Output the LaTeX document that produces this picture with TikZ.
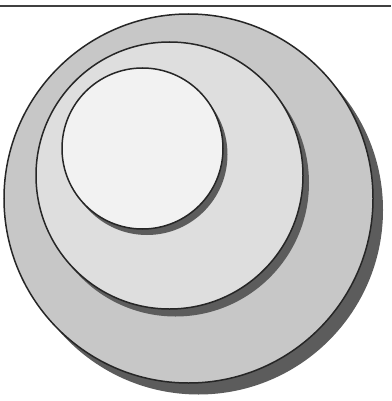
\documentclass[tikz,border=0pt]{standalone}
\usetikzlibrary{shadows}
\definecolor{ringdark}{gray}{0.78}
\definecolor{ringmid}{gray}{0.87}
\definecolor{ringlight}{gray}{0.95}
\definecolor{shade}{gray}{0.36}
\tikzset{
  disc/.style={circle, draw=black!85, line width=1.5pt, inner sep=0pt, outer sep=0pt},
  deep/.style={drop shadow={shadow xshift=#1, shadow yshift=-#1-1.5pt, fill=shade, opacity=1}}
}
\begin{document}
\begin{tikzpicture}[x=1pt,y=-1pt]
    \useasboundingbox (0,0) rectangle (391,401);
    \coordinate (tl) at (0,6); \coordinate (tr) at (391,6);
    \draw[line width=1.4pt, black!75] (tl) -- (tr);
    % nested rings, largest first
    \node[disc, deep=10pt, fill=ringdark, minimum size=369pt] (outer) at (188.5,198.5) {};
    \node[disc, deep=6pt, fill=ringmid, minimum size=267pt] (middle) at (169.5,175.5) {};
    \node[disc, deep=4.5pt, fill=ringlight, minimum size=161pt] (inner) at (142.5,148.5) {};
  \end{tikzpicture}
\end{document}
